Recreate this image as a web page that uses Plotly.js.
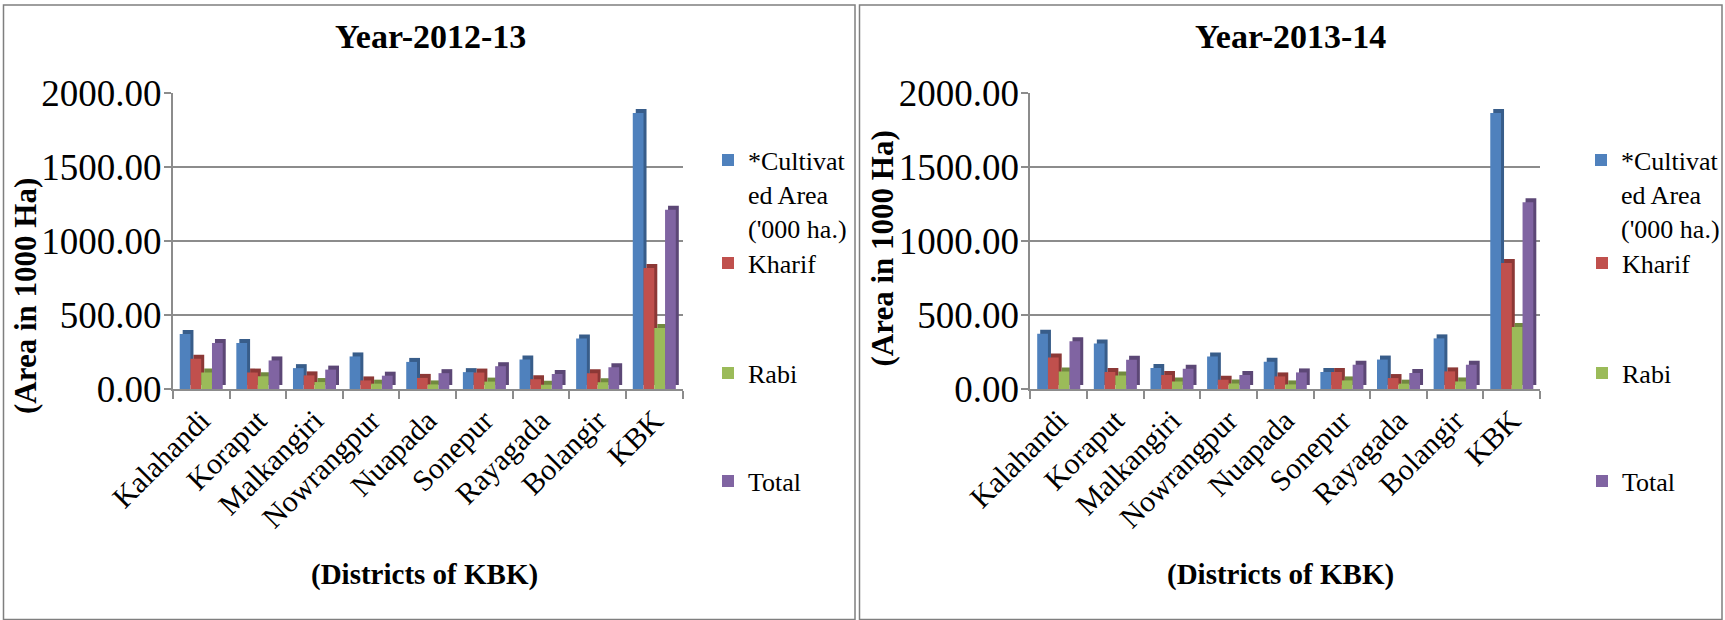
<!DOCTYPE html>
<html>
<head>
<meta charset="utf-8">
<script src="https://cdn.plot.ly/plotly-3.0.1.min.js"></script>
<style>
  html, body { margin: 0; padding: 0; background: #ffffff; }
  #chart { width: 1725px; height: 620px; }
</style>
</head>
<body>
<div id="chart"></div>
<script>
// Districts of the KBK region (last entry is the KBK aggregate)
const categories = ['Kalahandi', 'Koraput', 'Malkangiri', 'Nowrangpur', 'Nuapada',
                    'Sonepur', 'Rayagada', 'Bolangir', 'KBK'];

const seriesNames = ["*Cultivat<br>ed Area<br>('000 ha.)", 'Kharif', 'Rabi', 'Total'];

// Year 2012-13 (area in '000 ha)
const cultivated2012 = [372, 310, 141, 220, 183, 114, 200, 342, 1865];
const kharif2012     = [204, 111,  92,  58,  75, 111,  66, 107,  817];
const rabi2012       = [111,  86,  47,  36,  31,  50,  29,  45,  412];
const total2012      = [311, 193, 131,  90, 107, 154, 101, 147, 1211];

// Year 2013-14 (area in '000 ha)
const cultivated2013 = [373, 308, 142, 220, 184, 115, 199, 342, 1865];
const kharif2013     = [213, 115,  95,  63,  85, 115,  74, 119,  851];
const rabi2013       = [119,  92,  51,  38,  31,  58,  36,  51,  419];
const total2013      = [322, 198, 137,  95, 112, 164, 108, 164, 1261];

const W = 1725, H = 620;
const FONT = '"Liberation Serif", "Times New Roman", serif';

const faceColors = ['#4F81BD', '#C0504D', '#9BBB59', '#8064A2'];
const sideColors = ['#385D8A', '#8C3836', '#71893F', '#5C4776'];

// plot-area geometry (pixels)
const plotTop = 93, plotBottom = 389;
const yMax = 2000;
const plotW = 510;
const leftX0 = 173, rightX0 = 1031;

// bar layout in category units
const barW = 0.19;
const groupStart = -0.38;
const depthPx = 4, sidePx = 3;
const depthUnits = depthPx * yMax / (plotBottom - plotTop);
const sideUnits = sidePx * categories.length / plotW;

function panelTraces(seriesValues, xa, ya, legendIds) {
  const shadows = [], faces = [];
  seriesValues.forEach((vals, i) => {
    const off = groupStart + i * barW;
    shadows.push({
      type: 'bar', x: categories, y: vals, base: depthUnits,
      offset: off + sideUnits, width: barW,
      xaxis: xa, yaxis: ya,
      marker: { color: sideColors[i], line: { width: 0 } },
      showlegend: false, hoverinfo: 'skip'
    });
    faces.push({
      type: 'bar', x: categories, y: vals, name: seriesNames[i],
      offset: off, width: barW,
      xaxis: xa, yaxis: ya,
      marker: { color: faceColors[i], line: { width: 0 } },
      legend: legendIds[i], showlegend: true
    });
  });
  return shadows.concat(faces);
}

const data = []
  .concat(panelTraces([cultivated2012, kharif2012, rabi2012, total2012], 'x', 'y',
                      ['legend', 'legend2', 'legend3', 'legend4']))
  .concat(panelTraces([cultivated2013, kharif2013, rabi2013, total2013], 'x2', 'y2',
                      ['legend5', 'legend6', 'legend7', 'legend8']));

const px = v => v / W;
const py = v => 1 - v / H;

function xAxis(x0) {
  return {
    domain: [px(x0), px(x0 + plotW)],
    type: 'category',
    range: [-0.5, categories.length - 0.5],
    showline: true, linecolor: '#8c8c8c', linewidth: 2,
    ticks: 'outside', ticklen: 8, tickcolor: '#8c8c8c', tickwidth: 2,
    tickson: 'boundaries',
    tickangle: -45,
    tickfont: { family: FONT, size: 30, color: '#000000' },
    showgrid: false, zeroline: false, fixedrange: true
  };
}

function yAxis(anchor) {
  return {
    domain: [py(plotBottom), py(plotTop)],
    anchor: anchor,
    range: [0, yMax], dtick: 500, tickformat: '.2f',
    showline: true, linecolor: '#8c8c8c', linewidth: 2,
    ticks: 'outside', ticklen: 7, tickcolor: '#8c8c8c', tickwidth: 2,
    ticklabelstandoff: -5,
    showgrid: true, gridcolor: '#8c8c8c', gridwidth: 2,
    zeroline: false,
    tickfont: { family: FONT, size: 37, color: '#000000' },
    fixedrange: true
  };
}

function legendAt(xLeft, yMid) {
  return {
    x: px(xLeft), y: py(yMid), xanchor: 'left', yanchor: 'middle',
    bgcolor: 'rgba(0,0,0,0)', borderwidth: 0, valign: 'top',
    font: { family: FONT, size: 26, color: '#000000' }
  };
}

const legendRows = [194, 263, 373, 481];
const legendLeft = [708, 1582];

function label(text, x, y, size, angle) {
  return {
    text: text, xref: 'paper', yref: 'paper',
    x: px(x), y: py(y), xanchor: 'center', yanchor: 'middle',
    textangle: angle || 0, showarrow: false,
    font: { family: FONT, size: size, color: '#000000' }
  };
}

const layout = {
  width: W, height: H,
  margin: { l: 0, r: 0, t: 0, b: 0 },
  paper_bgcolor: '#ffffff', plot_bgcolor: 'rgba(0,0,0,0)',
  barmode: 'overlay',
  xaxis: Object.assign(xAxis(leftX0), { anchor: 'y' }),
  yaxis: yAxis('x'),
  xaxis2: Object.assign(xAxis(rightX0), { anchor: 'y2' }),
  yaxis2: yAxis('x2'),
  legend:  legendAt(legendLeft[0], legendRows[0]),
  legend2: legendAt(legendLeft[0], legendRows[1]),
  legend3: legendAt(legendLeft[0], legendRows[2]),
  legend4: legendAt(legendLeft[0], legendRows[3]),
  legend5: legendAt(legendLeft[1], legendRows[0]),
  legend6: legendAt(legendLeft[1], legendRows[1]),
  legend7: legendAt(legendLeft[1], legendRows[2]),
  legend8: legendAt(legendLeft[1], legendRows[3]),
  shapes: [
    { type: 'rect', xref: 'paper', yref: 'paper',
      x0: px(3.5), x1: px(855.5), y0: py(619.5), y1: py(5),
      line: { color: '#7f7f7f', width: 1.5 } },
    { type: 'rect', xref: 'paper', yref: 'paper',
      x0: px(860), x1: px(1723), y0: py(619.5), y1: py(5),
      line: { color: '#7f7f7f', width: 1.5 } }
  ],
  annotations: [
    label('<b>Year-2012-13</b>', 431, 36, 34),
    label('<b>Year-2013-14</b>', 1291, 36, 34),
    label('<b>(Area in 1000 Ha)</b>', 25, 296, 31, -90),
    label('<b>(Area in 1000 Ha)</b>', 883, 248, 31, -90),
    label('<b>(Districts of KBK)</b>', 425, 574, 29),
    label('<b>(Districts of KBK)</b>', 1281, 574, 29)
  ]
};

Plotly.newPlot('chart', data, layout, { staticPlot: true, displayModeBar: false });
</script>
</body>
</html>
